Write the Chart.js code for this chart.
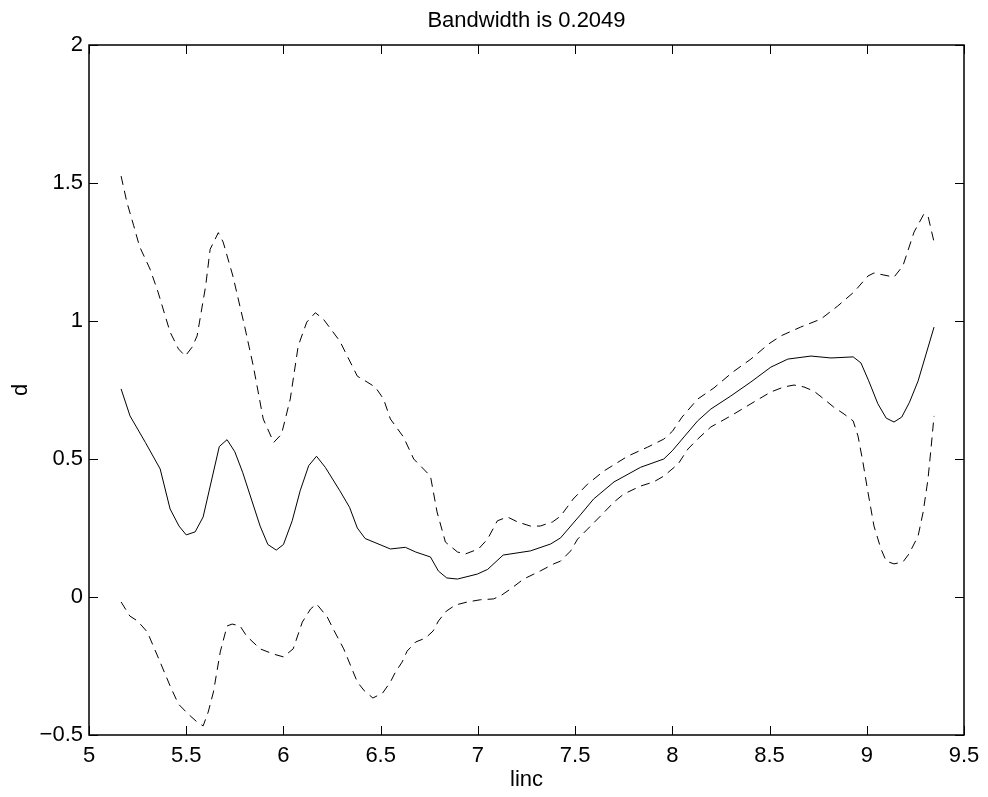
<!DOCTYPE html>
<html>
<head>
<meta charset="utf-8">
<script src="https://cdn.jsdelivr.net/npm/chart.js@4"></script>
<style>
  html, body { margin: 0; padding: 0; background: #fff; }
  #wrap { width: 988px; height: 797px; }
</style>
</head>
<body>
<div id="wrap"><canvas id="bwChart" width="988" height="797"></canvas></div>
<script>
const TITLE = 'Bandwidth is 0.2049';
const X_LABEL = 'linc';
const Y_LABEL = 'd';

const xTicks = [5, 5.5, 6, 6.5, 7, 7.5, 8, 8.5, 9, 9.5];
const yTicks = [-0.5, 0, 0.5, 1, 1.5, 2];

// estimate (solid line)
const estX = [5.165, 5.211, 5.29, 5.366, 5.417, 5.463, 5.50, 5.546, 5.587, 5.67, 5.71, 5.75, 5.79,
  5.88, 5.92, 5.963, 6.00, 6.045, 6.086, 6.13, 6.17, 6.215, 6.29, 6.34, 6.38, 6.42, 6.55, 6.627,
  6.68, 6.756, 6.797, 6.84, 6.895, 6.997, 7.05, 7.13, 7.27, 7.374, 7.425, 7.53, 7.595, 7.70, 7.837,
  7.956, 8.00, 8.06, 8.13, 8.198, 8.30, 8.404, 8.507, 8.594, 8.713, 8.816, 8.93, 8.97, 9.01, 9.057,
  9.10, 9.14, 9.18, 9.22, 9.264, 9.346];
const estY = [0.754, 0.656, 0.56, 0.464, 0.319, 0.257, 0.225, 0.236, 0.29, 0.545, 0.57, 0.526, 0.452,
  0.257, 0.19, 0.17, 0.19, 0.276, 0.385, 0.476, 0.51, 0.47, 0.385, 0.325, 0.25, 0.212, 0.174, 0.18,
  0.163, 0.145, 0.094, 0.069, 0.065, 0.083, 0.10, 0.152, 0.167, 0.192, 0.214, 0.30, 0.355, 0.417, 0.47,
  0.50, 0.53, 0.58, 0.638, 0.681, 0.728, 0.779, 0.833, 0.862, 0.873, 0.866, 0.87, 0.848, 0.783, 0.70,
  0.648, 0.634, 0.652, 0.706, 0.783, 0.978];

// upper band (dashed)
const upX = [5.165, 5.195, 5.23, 5.26, 5.314, 5.355, 5.417, 5.46, 5.495, 5.53, 5.556, 5.60, 5.623,
  5.665, 5.69, 5.74, 5.80, 5.845, 5.896, 5.95, 5.99, 6.035, 6.076, 6.12, 6.164, 6.205, 6.29, 6.38,
  6.43, 6.473, 6.515, 6.55, 6.617, 6.67, 6.756, 6.79, 6.833, 6.895, 6.936, 7.003, 7.05, 7.10, 7.152,
  7.204, 7.27, 7.32, 7.384, 7.425, 7.49, 7.564, 7.647, 7.77, 7.873, 7.956, 8.00, 8.05, 8.13, 8.213,
  8.311, 8.404, 8.496, 8.558, 8.66, 8.764, 8.85, 8.934, 9.006, 9.037, 9.14, 9.186, 9.243, 9.294,
  9.315, 9.346];
const upY = [1.525, 1.43, 1.345, 1.27, 1.188, 1.105, 0.96, 0.899, 0.873, 0.905, 0.946, 1.127, 1.26,
  1.32, 1.286, 1.163, 0.982, 0.837, 0.645, 0.56, 0.59, 0.717, 0.91, 0.996, 1.03, 1.007, 0.927, 0.80,
  0.779, 0.76, 0.717, 0.645, 0.58, 0.50, 0.438, 0.308, 0.199, 0.163, 0.156, 0.174, 0.21, 0.276, 0.29,
  0.272, 0.257, 0.257, 0.272, 0.293, 0.355, 0.409, 0.456, 0.51, 0.543, 0.572, 0.60, 0.652, 0.717, 0.757,
  0.815, 0.862, 0.917, 0.946, 0.978, 1.007, 1.054, 1.105, 1.163, 1.174, 1.159, 1.20, 1.322, 1.388,
  1.38, 1.286];

// lower band (dashed)
const lowX = [5.165, 5.21, 5.25, 5.30, 5.366, 5.417, 5.46, 5.51, 5.556, 5.587, 5.613, 5.64, 5.675,
  5.71, 5.736, 5.777, 5.81, 5.88, 5.95, 6.00, 6.05, 6.097, 6.14, 6.17, 6.225, 6.256, 6.31, 6.38,
  6.416, 6.46, 6.51, 6.55, 6.576, 6.61, 6.636, 6.68, 6.73, 6.77, 6.797, 6.838, 6.885, 6.946, 7.013,
  7.08, 7.116, 7.168, 7.235, 7.32, 7.39, 7.425, 7.477, 7.513, 7.564, 7.63, 7.70, 7.75, 7.837, 7.904,
  7.956, 8.03, 8.08, 8.13, 8.198, 8.30, 8.404, 8.507, 8.574, 8.626, 8.677, 8.728, 8.78, 8.83, 8.883,
  8.93, 8.955, 8.98, 9.006, 9.037, 9.073, 9.10, 9.14, 9.186, 9.217, 9.264, 9.29, 9.315, 9.33, 9.346];
const lowY = [-0.018, -0.069, -0.087, -0.127, -0.236, -0.322, -0.388, -0.424, -0.453, -0.467, -0.417,
  -0.344, -0.199, -0.105, -0.098, -0.105, -0.141, -0.188, -0.207, -0.217, -0.188, -0.091, -0.043, -0.025,
  -0.072, -0.116, -0.188, -0.308, -0.34, -0.366, -0.348, -0.308, -0.272, -0.236, -0.196, -0.163, -0.149,
  -0.123, -0.087, -0.051, -0.029, -0.018, -0.01, -0.007, 0.004, 0.029, 0.065, 0.094, 0.12, 0.13, 0.167,
  0.21, 0.246, 0.293, 0.344, 0.373, 0.402, 0.417, 0.438, 0.482, 0.536, 0.572, 0.616, 0.656, 0.70, 0.743,
  0.761, 0.768, 0.761, 0.746, 0.717, 0.688, 0.663, 0.638, 0.583, 0.489, 0.38, 0.257, 0.174, 0.13, 0.12,
  0.127, 0.156, 0.221, 0.308, 0.428, 0.536, 0.656];

const FONT = 'Helvetica, Arial, "Liberation Sans", sans-serif';

function toPoints(xs, ys) {
  return xs.map((x, i) => ({ x: x, y: ys[i] }));
}

function fmtTick(v) {
  const s = String(Math.round(v * 100) / 100);
  return v < 0 ? '\u2212' + s.slice(1) : s;
}

// MATLAB style box with inward ticks on all four sides
const boxTicks = {
  id: 'boxTicks',
  afterDatasetsDraw(chart) {
    const { ctx, chartArea: a, scales } = chart;
    const len = 9;
    ctx.save();
    ctx.strokeStyle = '#000';
    ctx.lineWidth = 1;
    ctx.beginPath();
    xTicks.forEach(v => {
      const px = Math.round(scales.x.getPixelForValue(v)) + 0.5;
      ctx.moveTo(px, a.bottom); ctx.lineTo(px, a.bottom - len);
      ctx.moveTo(px, a.top); ctx.lineTo(px, a.top + len);
    });
    yTicks.forEach(v => {
      const py = Math.round(scales.y.getPixelForValue(v)) + 0.5;
      ctx.moveTo(a.left, py); ctx.lineTo(a.left + len, py);
      ctx.moveTo(a.right, py); ctx.lineTo(a.right - len, py);
    });
    ctx.stroke();
    ctx.lineWidth = 1.5;
    ctx.strokeRect(a.left, a.top, a.right - a.left, a.bottom - a.top);
    ctx.restore();
  }
};

const lineStyle = {
  showLine: true,
  pointRadius: 0,
  borderColor: '#000',
  borderWidth: 1,
  tension: 0,
  fill: false
};

const ctx = document.getElementById('bwChart').getContext('2d');
const chart = new Chart(ctx, {
  type: 'scatter',
  data: {
    datasets: [
      Object.assign({ label: 'estimate', data: toPoints(estX, estY) }, lineStyle),
      Object.assign({ label: 'upper', data: toPoints(upX, upY), borderDash: [9, 6] }, lineStyle),
      Object.assign({ label: 'lower', data: toPoints(lowX, lowY), borderDash: [9, 6] }, lineStyle)
    ]
  },
  options: {
    responsive: false,
    animation: false,
    devicePixelRatio: 1,
    layout: { padding: { left: 0, right: 24, top: 0, bottom: 0 } },
    plugins: {
      legend: { display: false },
      tooltip: { enabled: false },
      title: { display: false }
    },
    scales: {
      x: {
        type: 'linear',
        position: 'bottom',
        min: 5,
        max: 9.5,
        afterBuildTicks: s => { s.ticks = xTicks.map(v => ({ value: v })); },
        afterFit: s => { s.height = 62; },
        grid: { display: false, drawTicks: false },
        border: { display: false },
        ticks: {
          color: '#000',
          padding: 8,
          maxRotation: 0,
          autoSkip: false,
          font: { family: FONT, size: 22 },
          callback: v => fmtTick(v)
        },
        title: {
          display: true,
          text: X_LABEL,
          color: '#000',
          font: { family: FONT, size: 22 },
          padding: { top: 0, bottom: 4 }
        }
      },
      top: {
        type: 'linear',
        position: 'top',
        min: 5,
        max: 9.5,
        grid: { display: false, drawTicks: false },
        border: { display: false },
        ticks: { display: false },
        title: {
          display: true,
          text: TITLE,
          color: '#000',
          font: { family: FONT, size: 22 },
          padding: { top: 8, bottom: 10.6 }
        }
      },
      y: {
        type: 'linear',
        position: 'left',
        min: -0.5,
        max: 2,
        afterBuildTicks: s => { s.ticks = yTicks.map(v => ({ value: v })); },
        afterFit: s => { s.width = 89; },
        grid: { display: false, drawTicks: false },
        border: { display: false },
        ticks: {
          color: '#000',
          padding: 6,
          autoSkip: false,
          font: { family: FONT, size: 22 },
          callback: v => fmtTick(v)
        },
        title: {
          display: true,
          text: Y_LABEL,
          color: '#000',
          font: { family: FONT, size: 22 },
          padding: { top: 8, bottom: 0 }
        }
      }
    }
  },
  plugins: [boxTicks]
});
</script>
</body>
</html>
